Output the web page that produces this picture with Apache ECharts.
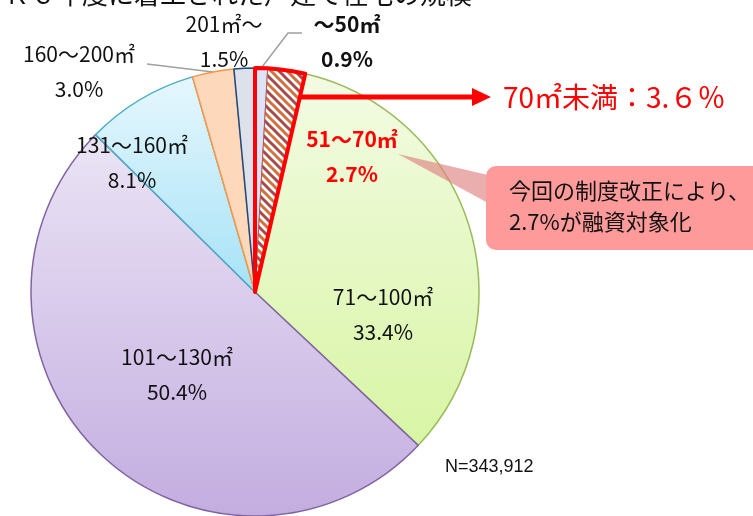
<!DOCTYPE html>
<html>
<head>
<meta charset="utf-8">
<title>住宅の規模</title>
<script src="https://cdn.jsdelivr.net/npm/echarts@6/dist/echarts.min.js"></script>
</head>
<body style="margin:0;padding:0;background:#fff;">
<div id="main" style="width:753px;height:516px;"></div>
<script>
// data
var categories = ['～50㎡', '51～70㎡', '71～100㎡', '101～130㎡', '131～160㎡', '160～200㎡', '201㎡～'];
var shares = [0.9, 2.7, 33.4, 50.4, 8.1, 3.0, 1.5];
var under70 = [3.6, 96.4];
var sampleText = 'N=343,912';

// label positions (centre of the two-line block) and leader lines
var labelPos = [[347, 42], [352, 157], [383, 315], [177, 375], [132, 163], [79, 72], [224, 42]];
var leaderLines = {
  0: [[262, 67], [288, 33], [302, 33]],
  1: [[280, 160], [291, 156], [302, 152]],
  5: [[213, 72], [180, 68], [147, 64]]
};

// hatch pattern for 51~70
var hatch = document.createElement('canvas');
hatch.width = 16; hatch.height = 16;
(function () {
  var c = hatch.getContext('2d');
  c.fillStyle = '#fff';
  c.fillRect(0, 0, 16, 16);
  c.lineWidth = 3;
  function stripe(off, col) {
    c.strokeStyle = col;
    [-16, 0, 16].forEach(function (k) {
      c.beginPath();
      c.moveTo(off + k - 4, -4);
      c.lineTo(off + k + 20, 20);
      c.stroke();
    });
  }
  stripe(0, '#a84848');
  stripe(8, '#d0703a');
})();

function vgrad(a, b) {
  return new echarts.graphic.LinearGradient(0, 0, 0, 1, [{offset: 0, color: a}, {offset: 1, color: b}]);
}
var styles = [
  {color: '#dce3f7', borderColor: '#7f93c0', borderWidth: 1},
  {color: {image: hatch, repeat: 'repeat'}, borderColor: '#c0504d', borderWidth: 1},
  {color: vgrad('#f3fbe4', '#d8f5a4'), borderColor: '#9bbb59', borderWidth: 1.5},
  {color: vgrad('#ebe4f5', '#c3ade0'), borderColor: '#8064a2', borderWidth: 1.5},
  {color: vgrad('#e6f7fd', '#a6e2f7'), borderColor: '#4bacc6', borderWidth: 1.5},
  {color: '#fdd8bb', borderColor: '#f79646', borderWidth: 1.5},
  {color: '#dde1eb', borderColor: '#1f497d', borderWidth: 1.5}
];

var pieData = categories.map(function (name, i) {
  var d = {name: name, value: shares[i], itemStyle: styles[i], labelLine: {show: !!leaderLines[i]}};
  if (i === 0) d.label = {rich: {n: {fontWeight: 'bold'}, p: {fontWeight: 'bold'}}};
  if (i === 1) d.label = {rich: {n: {fontWeight: 'bold', color: '#ff0000'}, p: {fontWeight: 'bold', color: '#ff0000'}}};
  return d;
});

var chart = echarts.init(document.getElementById('main'), null, {renderer: 'canvas'});
chart.setOption({
  animation: false,
  series: [{
    type: 'pie',
    center: [255, 292],
    radius: 224,
    startAngle: 90,
    clockwise: true,
    data: pieData,
    label: {
      position: 'outside',
      alignTo: 'none',
      overflow: 'none',
      formatter: function (p) { return '{n|' + p.name + '}\n{p|' + p.value.toFixed(1) + '%}'; },
      rich: {
        n: {fontSize: 21, color: '#111', fontFamily: 'Noto Sans CJK JP', lineHeight: 35, align: 'center'},
        p: {fontSize: 21, color: '#111', fontFamily: 'Noto Sans CJK JP', lineHeight: 35, align: 'center'}
      }
    },
    labelLine: {lineStyle: {color: '#a0a0a0', width: 1.5}},
    labelLayout: function (p) {
      var pos = labelPos[p.dataIndex];
      var out = {x: pos[0], y: pos[1], align: 'center', verticalAlign: 'middle', width: 200};
      if (leaderLines[p.dataIndex]) out.labelLinePoints = leaderLines[p.dataIndex];
      return out;
    }
  }, {
    type: 'pie',
    center: [255, 292],
    radius: 224,
    startAngle: 90,
    clockwise: true,
    silent: true,
    z: 5,
    label: {show: false},
    labelLine: {show: false},
    data: [
      {value: under70[0], itemStyle: {color: 'rgba(0,0,0,0)', borderColor: '#ff0000', borderWidth: 4}},
      {value: under70[1], itemStyle: {color: 'rgba(0,0,0,0)', borderWidth: 0}}
    ]
  }],
  graphic: [
    {type: 'text', left: 4, top: -19, z: 10,
      style: {text: 'Ｒ６年度に着工された戸建て住宅の規模', font: '26px "Noto Sans CJK JP"', fill: '#111'}},
    {type: 'rect', shape: {x: 400, y: 154, width: 28, height: 24}, style: {fill: '#fdfbd2'}, z: 1},
    {type: 'line', shape: {x1: 300, y1: 97, x2: 476, y2: 97}, style: {stroke: '#ff0000', lineWidth: 5}, z: 10},
    {type: 'polygon', shape: {points: [[472, 88], [491, 97], [472, 106]]}, style: {fill: '#ff0000'}, z: 10},
    {type: 'text', x: 503, y: 97, z: 10,
      style: {text: '70㎡未満：3.６％', font: '28px "Noto Sans CJK JP"', fill: '#ff0000', verticalAlign: 'middle'}},
    {type: 'polygon', shape: {points: [[398, 154], [488, 175], [488, 203]]}, style: {fill: 'rgba(222,130,130,0.65)'}, z: 10},
    {type: 'rect', shape: {x: 486, y: 166, width: 290, height: 84, r: 10}, style: {fill: '#ff9a9a'}, z: 11},
    {type: 'text', x: 509, y: 191, z: 12,
      style: {text: '今回の制度改正により、', font: '22px "Noto Sans CJK JP"', fill: '#111', verticalAlign: 'middle'}},
    {type: 'text', x: 509, y: 222, z: 12,
      style: {text: '2.7%が融資対象化', font: '22px "Noto Sans CJK JP"', fill: '#111', verticalAlign: 'middle'}},
    {type: 'text', x: 445, y: 467, z: 10,
      style: {text: sampleText, font: '18px "Liberation Sans Narrow", "Liberation Sans"', fill: '#111', verticalAlign: 'middle'}}
  ]
});
</script>
</body>
</html>
